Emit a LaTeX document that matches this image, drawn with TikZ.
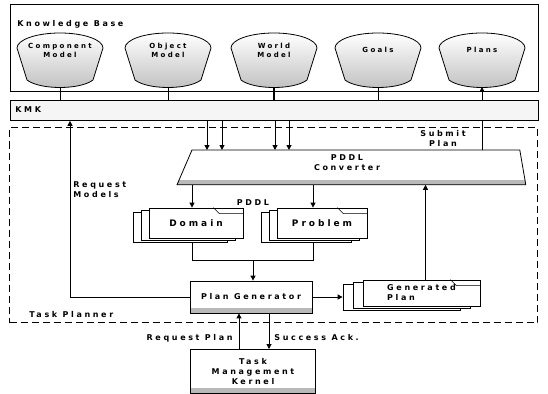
\documentclass[tikz,border=0pt]{standalone}
\usepackage{fontspec}
\setsansfont{DejaVu Sans}[LetterSpace=33]
\usetikzlibrary{arrows.meta,shadows}

\begin{document}
\begin{tikzpicture}[x=1pt,y=-1pt,
  line width=0.8pt,
  font=\sffamily\bfseries\fontsize{8}{10}\selectfont,
  arr/.style={-{Triangle[length=5pt,width=5pt]},line width=1pt},
  band/.style={path picture={\fill[gray!55] ([yshift=5pt]path picture bounding box.south west) rectangle (path picture bounding box.south east);}},
  doc/.style={draw,fill=white,double copy shadow={shadow xshift=#1,shadow yshift=-2pt},inner sep=2pt},
  doc/.default=-8pt,
  lbl/.style={align=center,inner sep=1pt}]

\useasboundingbox (0,0) rectangle (548,393);

% Knowledge base and KMK
\node[draw,minimum width=528pt,minimum height=87pt,anchor=north west] (kb) at (10,4) {};
\node[anchor=west,inner sep=1pt] (kbtxt) at (16,24) {Knowledge Base};
\node[draw,fill=gray!8,minimum width=528pt,minimum height=20pt,anchor=north west] (kmk) at (10,100) {};
\node[anchor=west,inner sep=1pt] (kmktxt) at (14,110) {KMK};

% Stores
\foreach \cx/\nm/\txt in {60/comp/{Component\\Model},168/obj/{Object\\Model},274/world/{World\\Model},378/goals/Goals,482/plans/Plans}{
  \draw[top color=white,bottom color=gray!50] (\cx-43,48) arc (180:0:43pt and 15pt) -- (\cx+33,80) .. controls (\cx+20,90) and (\cx-20,90) .. (\cx-33,80) -- cycle;
  \node[lbl,font=\sffamily\bfseries\fontsize{7}{9}\selectfont] (\nm) at (\cx,50) {\txt};
  \coordinate (\nm-b) at (\cx,87);
}
\foreach \nm in {comp,obj,goals} \draw (\nm-b) -- (\nm-b |- kmk.north);
\draw[line width=1.3pt] (world-b) -- (world-b |- kmk.north);
\draw[arr] (plans-b |- kmk.north) -- (plans-b);

% Task planner
\node[draw,dash pattern=on 7pt off 4pt,line width=1pt,minimum width=528pt,minimum height=195pt,anchor=north west] (tp) at (9,127) {};
\node[anchor=west,inner sep=1pt] (tptxt) at (28,315) {Task Planner};

% PDDL converter
\node[minimum width=327pt,minimum height=34pt,anchor=north west] (conv) at (192,150) {};
\draw[fill=white,band] (conv.north west) -- (conv.north east) -- ([xshift=6pt]conv.south east) -- ([xshift=-15pt]conv.south west) -- cycle;
\node[lbl] (convtxt) at (347,163) {PDDL\\Converter};
\foreach \xx in {207,222,275,289} \draw[arr] (\xx,0 |- kmk.south) -- (\xx,0 |- conv.north);
\draw (plans-b |- conv.north) -- (plans-b |- kmk.south);
\node[lbl] (submit) at (443,139) {Submit\\Plan};

% Domain and problem
\node[doc,minimum width=94pt,minimum height=30pt,font=\sffamily\bfseries\fontsize{9}{10}\selectfont] (dom) at (196,223) {Domain};
\node[doc,minimum width=90pt,minimum height=30pt,font=\sffamily\bfseries\fontsize{9}{10}\selectfont] (prob) at (322,223) {Problem};
\node[lbl] (pddl) at (253,203) {PDDL};
\coordinate (domin) at ([xshift=-4pt]dom.north);
\coordinate (probin) at ([xshift=-9pt]prob.north);
\draw[arr] (domin |- conv.south) -- (domin);
\draw[arr] (probin |- conv.south) -- (probin);

% Plan generator
\node[draw,fill=white,band,minimum width=122pt,minimum height=32pt] (plangen) at (251,297) {Plan Generator};
\coordinate (merge) at (253,260);
\draw (domin |- dom.south) ++(0,4) |- (merge);
\draw (probin |- prob.south) ++(0,4) |- (merge);
\draw[arr] (merge) -- (merge |- plangen.north);

% Generated plan
\node[doc=-10pt,minimum width=117pt,minimum height=26pt,align=left] (gen) at (421.5,293) {Generated\\Plan};
\foreach \d in {dom,prob,gen} \draw[line width=0.6pt] ([xshift=-30pt]\d.north east) -- ([xshift=-24pt,yshift=-6pt]\d.north east) -- ([yshift=-6pt]\d.north east);
\coordinate (genback) at ([xshift=-20pt]gen.west);
\draw[arr] (plangen.east) -- (plangen.east -| genback);
\coordinate (genout) at ([xshift=4pt]gen.north);
\draw[arr] (genout) -- (genout |- conv.south);

% Request models
\coordinate (rmtop) at (70,0 |- kmk.south);
\draw[arr] (plangen.west) -| (rmtop);
\node[lbl,align=left,anchor=west] (rmtxt) at (72,190) {Request\\Models};

% Task management kernel
\node[draw,fill=white,band,minimum width=125pt,minimum height=44pt,align=center,anchor=north] (tmk) at (253,349) {Task\\Management\\Kernel};
\coordinate (rpin) at ([xshift=-14pt]tmk.north);
\coordinate (ackin) at ([xshift=16pt]tmk.north);
\draw[arr] (rpin) -- (rpin |- plangen.south);
\draw[arr] (ackin |- plangen.south) -- (ackin);
\node[anchor=east,inner sep=1pt] (rptxt) at (234,338) {Request Plan};
\node[anchor=west,inner sep=1pt] (acktxt) at (273,338) {Success Ack.};
\end{tikzpicture}
\end{document}
